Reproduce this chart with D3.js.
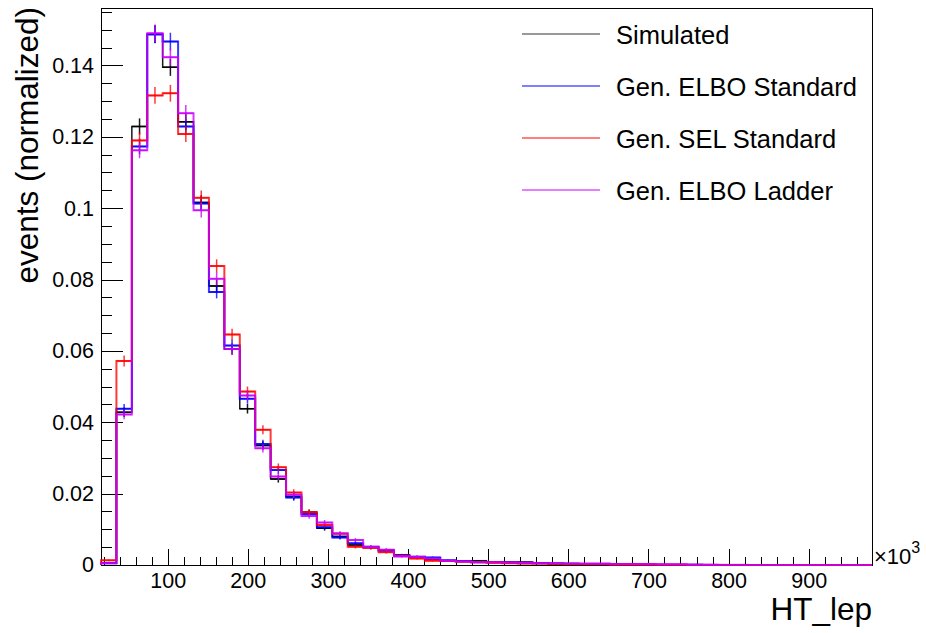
<!DOCTYPE html>
<html>
<head>
<meta charset="utf-8">
<script src="https://cdn.jsdelivr.net/npm/d3@7"></script>
<style>
    body { margin: 0; background: #fff; }
    text { font-family: "Liberation Sans", Arial, Helvetica, sans-serif; fill: #000; }
    .axis path, .axis line { stroke: #000; stroke-width: 1; shape-rendering: crispEdges; }
    .frame { fill: none; stroke: #000; stroke-width: 1; shape-rendering: crispEdges; }
</style>
</head>
<body>
<script>
    // histogram binning (HT_lep, x10^3)
    var binLow = 16.8,
        binHigh = 979,
        nBins = 50,
        nEvents = 24000; // used for the sqrt(N) error bars

    // normalized bin contents
    var simulated = [0.0005, 0.0428, 0.1229, 0.1488, 0.1395, 0.1242, 0.1016, 0.0782, 0.0605, 0.0438,
        0.0335, 0.0241, 0.0192, 0.0148, 0.0103, 0.0080, 0.0056, 0.0049, 0.0041, 0.0027,
        0.0023, 0.0016, 0.0012, 0.0011, 0.0012, 0.0009, 0.0008, 0.0008, 0.0006, 0.0004,
        0.0004, 0.0003, 0.0003, 0.0002, 0.0002, 0.0002, 0.0001, 0.0001, 0.0001, 0.0001,
        0.0001, 0.0001, 0, 0, 0, 0, 0, 0, 0, 0];
    var elboStandard = [0.0005, 0.0438, 0.1173, 0.1487, 0.1467, 0.1229, 0.1013, 0.0765, 0.0615, 0.0466,
        0.0339, 0.0266, 0.0189, 0.0143, 0.0106, 0.0077, 0.0061, 0.0051, 0.0040, 0.0028,
        0.0023, 0.0021, 0.0013, 0.0011, 0.0008, 0.0008, 0.0007, 0.0006, 0.0005, 0.0004,
        0.0003, 0.0003, 0.0002, 0.0002, 0.0002, 0.0001, 0.0001, 0.0001, 0.0001, 0,
        0, 0, 0, 0, 0, 0, 0, 0, 0, 0];
    var selStandard = [0.0013, 0.0572, 0.1190, 0.1316, 0.1322, 0.1208, 0.1029, 0.0838, 0.0646, 0.0486,
        0.0379, 0.0274, 0.0203, 0.0148, 0.0112, 0.0088, 0.0051, 0.0048, 0.0036, 0.0026,
        0.0018, 0.0012, 0.0011, 0.0009, 0.0008, 0.0006, 0.0005, 0.0004, 0.0004, 0.0003,
        0.0002, 0.0002, 0.0002, 0.0001, 0.0001, 0.0001, 0, 0, 0, 0,
        0, 0, 0, 0, 0, 0, 0, 0, 0, 0];
    var elboLadder = [0.0005, 0.0422, 0.1162, 0.1490, 0.1423, 0.1266, 0.0994, 0.0802, 0.0605, 0.0475,
        0.0327, 0.0248, 0.0197, 0.0137, 0.0119, 0.0088, 0.0070, 0.0051, 0.0043, 0.0024,
        0.0023, 0.0018, 0.0012, 0.0010, 0.0008, 0.0008, 0.0007, 0.0006, 0.0005, 0.0005,
        0.0004, 0.0004, 0.0004, 0.0003, 0.0003, 0.0003, 0.0002, 0.0002, 0.0001, 0.0001,
        0, 0, 0, 0, 0, 0, 0, 0, 0, 0];

    var seriesNames = ["Simulated", "Gen. ELBO Standard", "Gen. SEL Standard", "Gen. ELBO Ladder"];
    var seriesColors = ["#000000", "#0000ff", "#ff0000", "#cc00ff"];
    var yTickValues = [0, 0.02, 0.04, 0.06, 0.08, 0.1, 0.12, 0.14];
    var xTickValues = [100, 200, 300, 400, 500, 600, 700, 800, 900];

    var _width = 926,
        _height = 633,
        _margins = {top: 8, left: 101, right: 54, bottom: 68},
        _yMax = 0.1561;

    var series = [simulated, elboStandard, selStandard, elboLadder];

    var svg = d3.select("body").append("svg")
        .attr("width", _width)
        .attr("height", _height);

    svg.append("rect")
        .attr("width", _width)
        .attr("height", _height)
        .attr("fill", "#fff");

    function quadrantWidth() {
        return _width - _margins.left - _margins.right;
    }

    function quadrantHeight() {
        return _height - _margins.top - _margins.bottom;
    }

    var x = d3.scaleLinear().domain([binLow, binHigh]).range([0, quadrantWidth()]);
    var y = d3.scaleLinear().domain([0, _yMax]).range([quadrantHeight(), 0]);

    var binWidth = (binHigh - binLow) / nBins;
    var edges = d3.range(nBins + 1).map(function(i) {
        return binLow + i * binWidth;
    });

    var bodyG = svg.append("g")
        .attr("transform", "translate(" + _margins.left + "," + _margins.top + ")");

    // axes
    var axesG = bodyG.append("g").attr("class", "axes");

    var xAxis = d3.axisBottom(x)
        .tickValues(xTickValues)
        .tickSize(-16)
        .tickSizeOuter(0)
        .tickPadding(8)
        .tickFormat(d3.format("d"));
    var xMinor = d3.axisBottom(x)
        .tickValues(d3.range(20, binHigh, 20).filter(function(v) { return v % 100 !== 0; }))
        .tickSize(-8)
        .tickSizeOuter(0)
        .tickFormat("");

    var gx = axesG.append("g")
        .attr("class", "x axis")
        .attr("transform", "translate(0," + quadrantHeight() + ")")
        .call(xAxis);
    axesG.append("g")
        .attr("class", "x axis minor")
        .attr("transform", "translate(0," + quadrantHeight() + ")")
        .call(xMinor);
    gx.selectAll("text").style("font-size", "21.5px");

    var yAxis = d3.axisLeft(y)
        .tickValues(yTickValues)
        .tickSize(-22)
        .tickSizeOuter(0)
        .tickPadding(7)
        .tickFormat(d3.format("~g"));
    var yMinor = d3.axisLeft(y)
        .tickValues(d3.range(0.005, _yMax, 0.005).filter(function(v) {
            return Math.abs(v / 0.02 - Math.round(v / 0.02)) > 0.01;
        }))
        .tickSize(-11)
        .tickSizeOuter(0)
        .tickFormat("");

    var gy = axesG.append("g")
        .attr("class", "y axis")
        .call(yAxis);
    axesG.append("g")
        .attr("class", "y axis minor")
        .call(yMinor);
    gy.selectAll("text").style("font-size", "21.5px");

    // top and right frame lines
    bodyG.append("path")
        .attr("class", "frame")
        .attr("d", "M0,0H" + quadrantWidth() + "V" + quadrantHeight());

    // histograms
    var line = d3.line()
        .x(function(d) { return x(d[0]); })
        .y(function(d) { return y(d[1]); });

    function stepPoints(values) {
        var pts = [[edges[0], 0]];
        values.forEach(function(v, i) {
            pts.push([edges[i], v]);
            pts.push([edges[i + 1], v]);
        });
        pts.push([edges[nBins], 0]);
        return pts;
    }

    var histG = bodyG.append("g").attr("class", "hists");

    series.forEach(function(values, s) {
        var g = histG.append("g")
            .attr("stroke", seriesColors[s])
            .attr("stroke-opacity", s === 0 ? 0.9 : 0.78)
            .attr("fill", "none");

        g.append("path")
            .attr("d", line(stepPoints(values)))
            .attr("stroke-width", s === 0 ? 1.5 : 2);

        var bins = values.map(function(v, i) {
            return {v: v, lo: edges[i], hi: edges[i + 1], err: Math.sqrt(v / nEvents)};
        }).filter(function(d) { return d.v > 0; });

        g.selectAll("line.herr")
            .data(bins)
            .enter()
            .append("line")
            .attr("class", "herr")
            .attr("stroke-width", 1.5)
            .attr("x1", function(d) { return x(d.lo); })
            .attr("x2", function(d) { return x(d.hi); })
            .attr("y1", function(d) { return y(d.v); })
            .attr("y2", function(d) { return y(d.v); });

        g.selectAll("line.verr")
            .data(bins)
            .enter()
            .append("line")
            .attr("class", "verr")
            .attr("stroke-width", 1.5)
            .attr("x1", function(d) { return x((d.lo + d.hi) / 2); })
            .attr("x2", function(d) { return x((d.lo + d.hi) / 2); })
            .attr("y1", function(d) { return y(Math.max(0, d.v - d.err)); })
            .attr("y2", function(d) { return y(d.v + d.err); });
    });

    // titles
    svg.append("text")
        .attr("transform", "translate(38," + (_margins.top - 1) + ") rotate(-90)")
        .attr("text-anchor", "end")
        .style("font-size", "31.5px")
        .text("events (normalized)");

    svg.append("text")
        .attr("x", _width - _margins.right)
        .attr("y", 620)
        .attr("text-anchor", "end")
        .style("font-size", "31.5px")
        .text("HT_lep");

    var expo = svg.append("text")
        .attr("x", _width - _margins.right + 2)
        .attr("y", 564)
        .style("font-size", "22px");
    expo.append("tspan").text("\u00d710");
    expo.append("tspan")
        .attr("dy", -11)
        .style("font-size", "16px")
        .text("3");

    // legend
    var legendG = svg.append("g").attr("class", "legend");
    var legendY = d3.scalePoint().domain(seriesNames).range([34, 190]);

    seriesNames.forEach(function(name, i) {
        var ly = legendY(name);
        legendG.append("line")
            .attr("x1", 522)
            .attr("x2", 600)
            .attr("y1", ly)
            .attr("y2", ly)
            .attr("stroke", seriesColors[i])
            .attr("stroke-opacity", i === 0 ? 0.8 : 1)
            .attr("stroke-width", 1.2);
        legendG.append("text")
            .attr("x", 616)
            .attr("y", ly + 9.5)
            .style("font-size", "25.5px")
            .text(name);
    });
</script>
</body>
</html>
